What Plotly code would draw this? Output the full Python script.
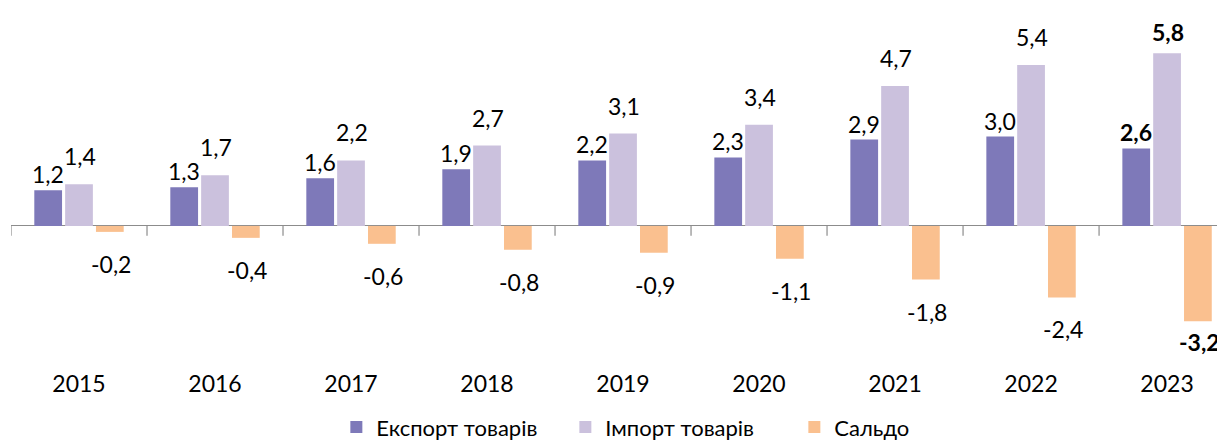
import plotly.graph_objects as go

years = ["2015", "2016", "2017", "2018", "2019", "2020", "2021", "2022", "2023"]
export_vals = [1.2, 1.3, 1.6, 1.9, 2.2, 2.3, 2.9, 3.0, 2.6]
import_vals = [1.4, 1.7, 2.2, 2.7, 3.1, 3.4, 4.7, 5.4, 5.8]
saldo_vals = [-0.2, -0.4, -0.6, -0.8, -0.9, -1.1, -1.8, -2.4, -3.2]
series_names = ["Експорт товарів", "Імпорт товарів", "Сальдо"]
colors = ["#7E79B9", "#CBC1DD", "#FAC08F"]

FONT = "Lato"

def fmt(v):
    return f"{v:.1f}".replace(".", ",")

fig = go.Figure()
for name, vals, col in zip(series_names, [export_vals, import_vals, saldo_vals], colors):
    fig.add_trace(go.Bar(x=years, y=vals, name=name, marker=dict(color=col, line=dict(width=0)),
                         hoverinfo="skip"))

# data labels
label_cfg = [(export_vals, -31, 16), (import_vals, 1, 28), (saldo_vals, 32, -32)]
annotations = []
n = len(years)
for k, (vals, xs, ys) in enumerate(label_cfg):
    for i, v in enumerate(vals):
        last = i == n - 1
        shift = ys
        if last and k > 0:
            shift = 21 if ys > 0 else -21
        txt = fmt(v)
        annotations.append(dict(x=i, y=v, xref="x", yref="y", text=f"<b>{txt}</b>" if last else txt,
                                showarrow=False, xshift=xs, yshift=shift, xanchor="center", yanchor="middle",
                                font=dict(family=FONT, size=23, color="#000000")))

# boundary tick marks on the zero line
shapes = []
for i in range(n + 1):
    shapes.append(dict(type="line", xref="x", yref="y", x0=i - 0.5, x1=i - 0.5, y0=0, y1=-0.33,
                       line=dict(color="#8C8C8C", width=1.2)))

fig.update_layout(
    width=1217, height=433,
    margin=dict(l=3, r=0, t=2, b=73, autoexpand=False),
    paper_bgcolor="white", plot_bgcolor="white",
    barmode="group", bargap=0.32, bargroupgap=0.1,
    showlegend=True,
    legend=dict(orientation="h", x=0.268, xanchor="left", y=-0.107, yanchor="top",
                font=dict(family=FONT, size=22, color="#000000"), itemwidth=30,
                entrywidth=184, entrywidthmode="pixels",
                traceorder="normal"),
    annotations=annotations,
    shapes=shapes,
    xaxis=dict(type="category", range=[-0.5, 8.426], showline=False, showgrid=False, ticks="",
               tickfont=dict(family=FONT, size=23, color="#000000"), fixedrange=True, automargin=False),
    yaxis=dict(range=[-4.77, 7.25], showgrid=False, showticklabels=False, zeroline=True,
               zerolinecolor="#8C8C8C", zerolinewidth=1.2, fixedrange=True, automargin=False),
)

fig.write_html("out.html")
